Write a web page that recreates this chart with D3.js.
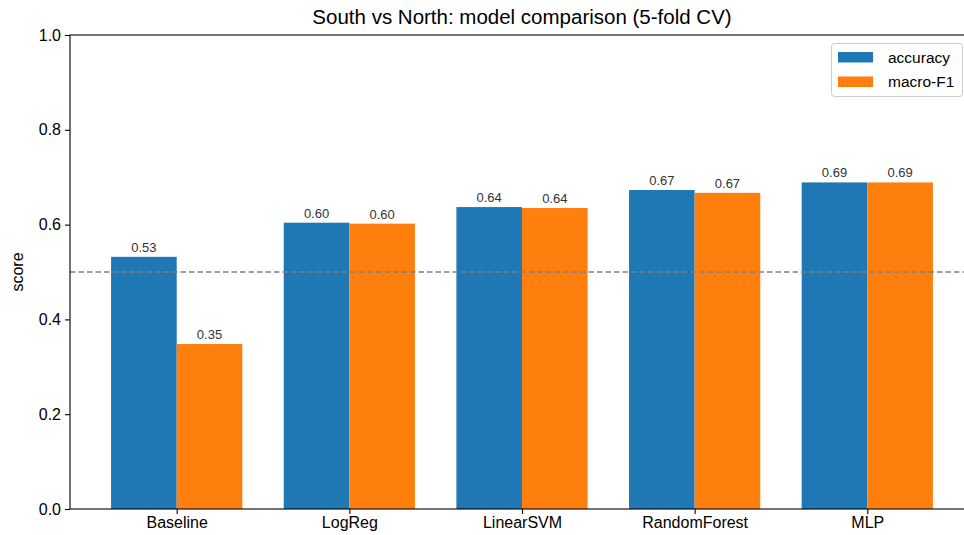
<!DOCTYPE html>
<html><head><meta charset="utf-8">
<script src="https://cdn.jsdelivr.net/npm/d3@7"></script>
<style>
body{margin:0;background:#fff;}
svg{display:block;}
text{font-family:"Liberation Sans",Arial,sans-serif;}
</style></head>
<body>
<svg id="chart" width="964" height="535"></svg>
<script>
const categories = ["Baseline","LogReg","LinearSVM","RandomForest","MLP"];
const accuracy = [0.532, 0.604, 0.637, 0.673, 0.689];
const macroF1 = [0.348, 0.602, 0.635, 0.667, 0.689];
const seriesNames = ["accuracy","macro-F1"];
const colors = ["#1f77b4","#ff7f0e"];
const yTicks = [0.0,0.2,0.4,0.6,0.8,1.0];
const chanceLevel = 0.5;
const title = "South vs North: model comparison (5-fold CV)";
const yLabel = "score";

const svg = d3.select("#chart");
const L=70, R=974, T=35, B=509;
const barW = 0.38;
const x = d3.scaleLinear().domain([-0.618, 4.618]).range([L,R]);
const y = d3.scaleLinear().domain([0,1]).range([B,T]);

const series = [accuracy, macroF1];
series.forEach((vals, s) => {
  const off = s===0 ? -barW : 0;
  svg.append("g").selectAll("rect").data(vals).join("rect")
    .attr("x", (d,i)=>x(i+off))
    .attr("width", (d,i)=>x(i+off+barW)-x(i+off))
    .attr("y", d=>y(d))
    .attr("height", d=>y(0)-y(d))
    .attr("fill", colors[s]);
  svg.append("g").selectAll("text").data(vals).join("text")
    .attr("x", (d,i)=>x(i+off+barW/2))
    .attr("y", d=>y(d)-5)
    .attr("text-anchor","middle")
    .attr("font-size","13px")
    .attr("fill","#333")
    .text(d=>d.toFixed(2));
});

// chance line
svg.append("line")
  .attr("x1",L).attr("x2",R).attr("y1",y(chanceLevel)).attr("y2",y(chanceLevel))
  .attr("stroke","#808080").attr("stroke-width",1.3).attr("stroke-dasharray","5.5,3");

// axes
const yAxis = d3.axisLeft(y).tickValues(yTicks).tickFormat(d3.format(".1f")).tickSize(5).tickPadding(4);
const gy = svg.append("g").attr("transform",`translate(${L},0)`).call(yAxis);
gy.select(".domain").remove();
gy.selectAll("text").attr("font-size","16px").attr("fill","#000").style("font-family",'"Liberation Sans",Arial,sans-serif');
gy.selectAll("line").attr("stroke","#000").attr("stroke-width",1.1);

const xAxis = d3.axisBottom(x).tickValues(d3.range(categories.length)).tickFormat(i=>categories[i]).tickSize(5).tickPadding(3);
const gx = svg.append("g").attr("transform",`translate(0,${B})`).call(xAxis);
gx.select(".domain").remove();
gx.selectAll("text").attr("font-size","16px").attr("fill","#000").style("font-family",'"Liberation Sans",Arial,sans-serif');
gx.selectAll("line").attr("stroke","#000").attr("stroke-width",1.1);

// spines
svg.append("rect").attr("x",L).attr("y",T).attr("width",R-L).attr("height",B-T)
  .attr("fill","none").attr("stroke","#000").attr("stroke-width",1.1);

// title
svg.append("text").attr("x",(L+R)/2).attr("y",24).attr("text-anchor","middle")
  .attr("font-size","20.5px").attr("fill","#000").text(title);
// y label
svg.append("text").attr("transform",`translate(23,${(T+B)/2}) rotate(-90)`)
  .attr("text-anchor","middle").attr("font-size","16px").attr("fill","#000").text(yLabel);

// legend
const lg = svg.append("g");
lg.append("rect").attr("x",831.5).attr("y",43.5).attr("width",131).attr("height",53).attr("rx",3)
  .attr("fill","#fff").attr("fill-opacity",0.8).attr("stroke","#ccc").attr("stroke-width",1);
seriesNames.forEach((n,i)=>{
  lg.append("rect").attr("x",838).attr("y",52+i*24.5).attr("width",35).attr("height",10.5).attr("fill",colors[i]);
  lg.append("text").attr("x",888).attr("y",62.5+i*24.5).attr("font-size","15.5px").attr("fill","#000").text(n);
});
</script>
</body></html>
